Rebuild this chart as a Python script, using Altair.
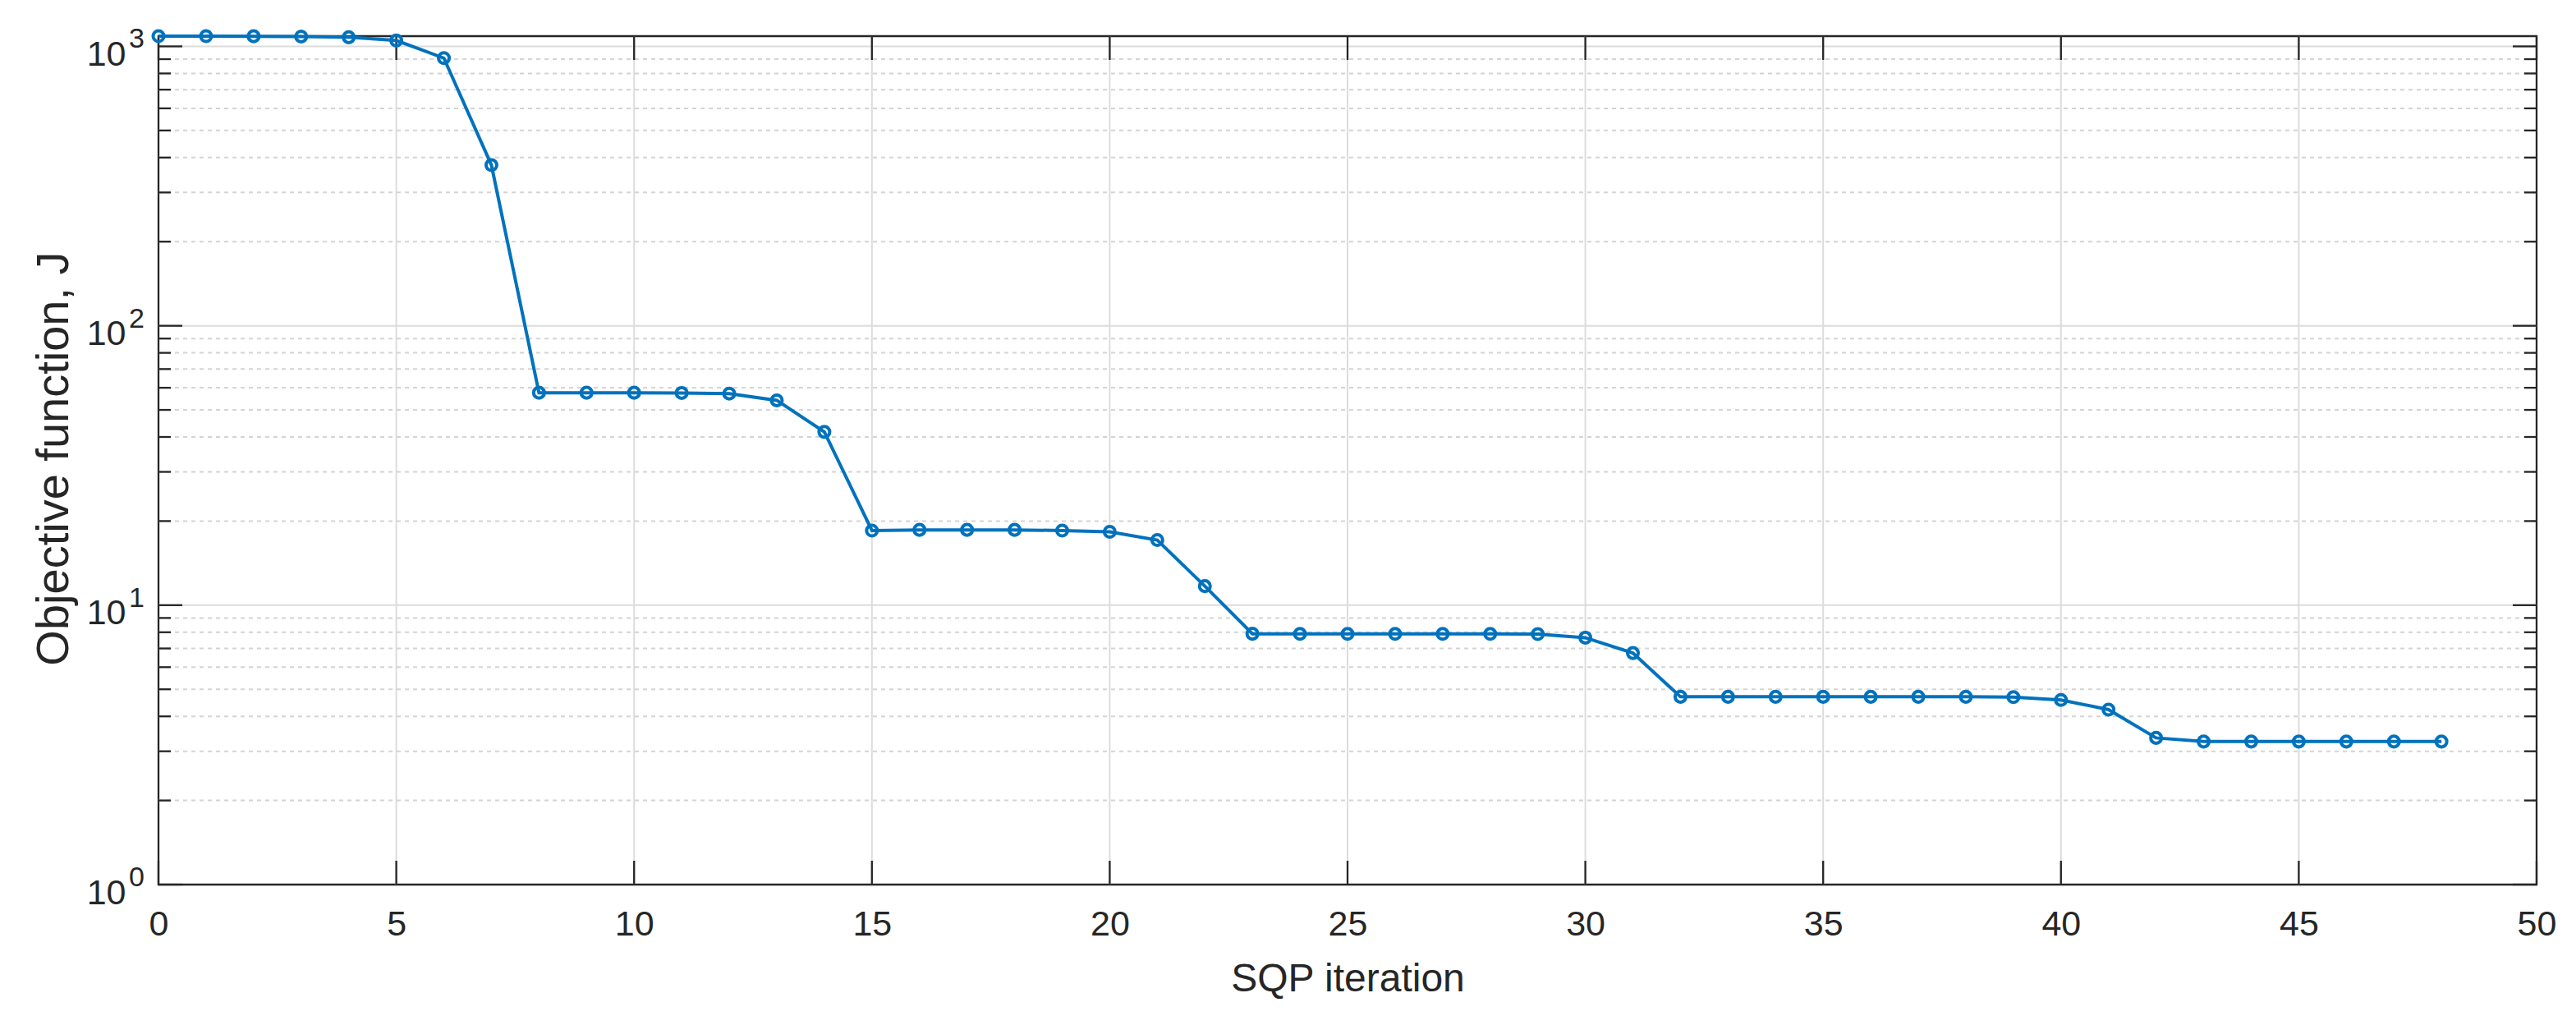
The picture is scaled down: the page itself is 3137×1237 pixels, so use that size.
import altair as alt
import pandas as pd

# ---------------- data ----------------
iterations = list(range(49))
objective = [
    1088, 1088, 1087, 1085, 1078, 1050, 908, 376,
    57.6, 57.6, 57.6, 57.5, 57.2, 54.1, 41.7,
    18.5, 18.6, 18.6, 18.6, 18.5, 18.3, 17.1, 11.7,
    7.9, 7.89, 7.89, 7.89, 7.89, 7.89, 7.88, 7.65, 6.74,
    4.70, 4.70, 4.70, 4.70, 4.70, 4.70, 4.70, 4.69, 4.58, 4.23,
    3.35, 3.25, 3.25, 3.25, 3.25, 3.25, 3.25,
]
x_ticks = [0, 5, 10, 15, 20, 25, 30, 35, 40, 45, 50]
x_grid = [5, 10, 15, 20, 25, 30, 35, 40, 45]
y_major = [1, 10, 100, 1000]
y_grid = [10, 100, 1000]
y_exponents = ["0", "1", "2", "3"]
y_minor = [2, 3, 4, 5, 6, 7, 8, 9,
           20, 30, 40, 50, 60, 70, 80, 90,
           200, 300, 400, 500, 600, 700, 800, 900]

# ---------------- style ----------------
FONT = "Liberation Sans"
INK = "#262626"
BLUE = "#0072BD"
GRID = "#dcdcdc"
MINOR = "#d4d4d4"
W, H = 2896, 1033
MAJ, MIN_ = 29, 15
AXW = 2.3

df = pd.DataFrame({"iter": iterations, "J": objective})
x_scale = alt.Scale(domain=[0, 50], nice=False, zero=False)
y_scale = alt.Scale(type="log", domain=[1, max(objective)], nice=False)

x_axis = alt.Axis(
    values=x_ticks, grid=False, ticks=False, domain=False,
    labelFont=FONT, labelFontSize=43, labelColor=INK, labelPadding=61,
    labelBaseline="alphabetic", labelFlush=False,
    title="SQP iteration", titleFont=FONT, titleFontSize=48, titleFontWeight="normal",
    titleColor=INK, titleBaseline="alphabetic", titleY=129,
)
y_axis = alt.Axis(
    values=y_major, grid=False, ticks=False, domain=False,
    labelExpr="'10'",
    labelFont=FONT, labelFontSize=43, labelColor=INK, labelPadding=40,
    labelBaseline="alphabetic", labelOffset=23, labelFlush=False,
    title="Objective function, J", titleFont=FONT, titleFontSize=56, titleFontWeight="normal",
    titleColor=INK, titleBaseline="alphabetic", titleX=-111, titleY=514,
)

X = alt.X("iter:Q", scale=x_scale, axis=x_axis)
Y = alt.Y("J:Q", scale=y_scale, axis=y_axis)

minor_grid = alt.Chart(pd.DataFrame({"J": y_minor})).mark_rule(
    color=MINOR, strokeWidth=2, strokeDash=[5, 5]
).encode(y=Y, x=alt.value(0), x2=alt.value(W))

major_ygrid = alt.Chart(pd.DataFrame({"J": y_grid})).mark_rule(
    color=GRID, strokeWidth=2
).encode(y=Y, x=alt.value(0), x2=alt.value(W))

major_xgrid = alt.Chart(pd.DataFrame({"iter": x_grid})).mark_rule(
    color=GRID, strokeWidth=2
).encode(x=X, y=alt.value(0), y2=alt.value(H))


def ytick(vals, x0, x1):
    return alt.Chart(pd.DataFrame({"J": vals})).mark_rule(color=INK, strokeWidth=AXW).encode(
        y=Y, x=alt.value(x0), x2=alt.value(x1)
    )


def xtick(y0, y1):
    return alt.Chart(pd.DataFrame({"iter": x_ticks})).mark_rule(color=INK, strokeWidth=AXW).encode(
        x=X, y=alt.value(y0), y2=alt.value(y1)
    )


ticks = [
    ytick(y_major, 0, MAJ), ytick(y_major, W - MAJ, W),
    ytick(y_minor, 0, MIN_), ytick(y_minor, W - MIN_, W),
    xtick(H - MAJ, H), xtick(0, MAJ),
]

line = alt.Chart(df).mark_line(color=BLUE, strokeWidth=4).encode(x=X, y=Y)
points = alt.Chart(df).mark_point(
    shape="circle", filled=False, color=BLUE, strokeWidth=4, size=170, opacity=1
).encode(x=X, y=Y)

exps = alt.Chart(pd.DataFrame({"J": y_major, "exp": y_exponents})).mark_text(
    align="left", baseline="alphabetic", font=FONT, fontSize=34, color=INK, dy=2
).encode(y=Y, x=alt.value(-36), text="exp:N")

chart = alt.layer(
    major_xgrid, major_ygrid, minor_grid, *ticks, line, points, exps
).properties(
    width=W, height=H,
    autosize=alt.AutoSizeParams(type="none"),
    padding={"left": 185, "top": 36, "right": 40, "bottom": 150},
    background="white",
).configure_view(stroke=INK, strokeWidth=AXW)

chart.save("out.html", embed_options={"renderer": "svg", "actions": False})
